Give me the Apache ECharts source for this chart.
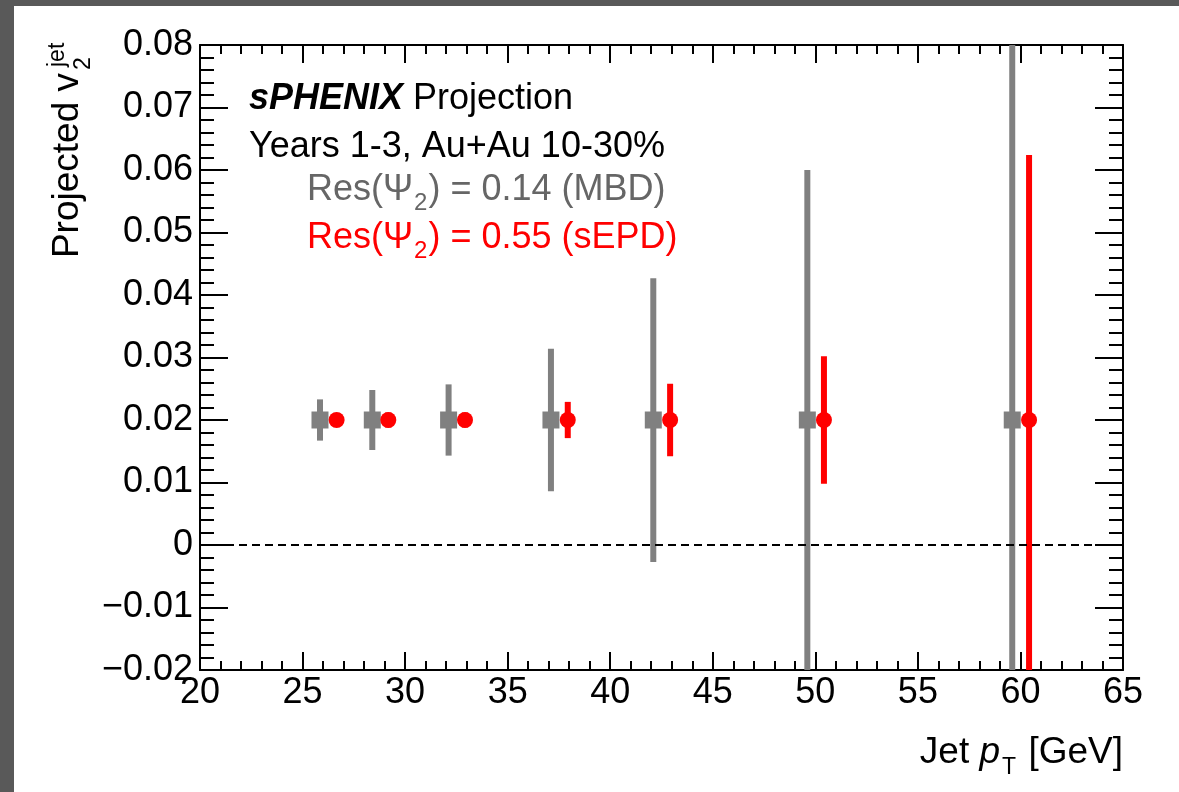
<!DOCTYPE html>
<html>
<head>
<meta charset="utf-8">
<script src="https://cdn.jsdelivr.net/npm/echarts@6/dist/echarts.min.js"></script>
<style>
html,body{margin:0;padding:0;background:#fff;}
#chart{width:1179px;height:792px;}
</style>
</head>
<body>
<div id="chart"></div>
<script>
// Data
const mbdX   = [25.85, 28.40, 32.12, 37.11, 42.10, 49.61, 59.60];
const mbdY   = [0.02, 0.02, 0.02, 0.02, 0.02, 0.02, 0.02];
const mbdErr = [0.0033, 0.0048, 0.0057, 0.0114, 0.0227, 0.0400, 0.0700];
const sepdX   = [26.66, 29.18, 32.92, 37.93, 42.92, 50.42, 60.42];
const sepdY   = [0.02, 0.02, 0.02, 0.02, 0.02, 0.02, 0.02];
const sepdErr = [0.0010, 0.0012, 0.0012, 0.0029, 0.0058, 0.0102, 0.0424];
const xTicks = {min: 20, max: 65, step: 5};
const yTicks = {min: -0.02, max: 0.08, step: 0.01};

const FONT = '"Liberation Sans", Arial, Helvetica, sans-serif';
const GRAY = '#808080';
const RED = '#ff0000';

function toRows(xs, ys, es) {
  return xs.map((x, i) => [x, ys[i], es[i]]);
}

function makeRender(kind, color) {
  return function (params, api) {
    const x = api.value(0), y = api.value(1), e = api.value(2);
    const c = api.coord([x, y]);
    const top = api.coord([x, y + e]);
    const bot = api.coord([x, y - e]);
    const children = [{
      type: 'rect',
      shape: {x: c[0] - 3, y: top[1], width: 6, height: bot[1] - top[1]},
      style: {fill: color}
    }];
    if (kind === 'square') {
      children.push({type: 'rect', shape: {x: c[0] - 8.5, y: c[1] - 8.5, width: 17, height: 17}, style: {fill: color}});
    } else {
      children.push({type: 'circle', shape: {cx: c[0], cy: c[1], r: 8}, style: {fill: color}});
    }
    return {type: 'group', children: children};
  };
}

function yFmt(v) {
  if (Math.abs(v) < 1e-9) return '0';
  const s = v.toFixed(2);
  return s.replace('-', '\u2212');
}

const axisCommon = {
  axisLine: {show: true, onZero: false, lineStyle: {color: '#000', width: 2}},
  splitLine: {show: false},
  minorSplitLine: {show: false}
};

const chart = echarts.init(document.getElementById('chart'), null, {renderer: 'canvas'});

const legendRich = (color) => ({
  a: {fontFamily: FONT, fontSize: 36, fill: color, verticalAlign: 'bottom', lineHeight: 40, padding: [0, 0, 7, 0]},
  s: {fontFamily: FONT, fontSize: 24, fill: color, verticalAlign: 'bottom', lineHeight: 26, padding: [0, 1, 0, 1]}
});

const option = {
  backgroundColor: '#ffffff',
  animation: false,
  grid: {left: 200, top: 45, right: 56, bottom: 122, containLabel: false},
  xAxis: [{
    type: 'value', position: 'bottom', min: xTicks.min, max: xTicks.max, interval: xTicks.step,
    ...axisCommon,
    axisTick: {show: true, inside: true, length: 18, lineStyle: {color: '#000', width: 2}},
    minorTick: {show: true, splitNumber: 5, length: 9, lineStyle: {color: '#000', width: 2}},
    axisLabel: {show: true, fontFamily: FONT, fontSize: 36, color: '#000', margin: 5},
    name: ''
  }, {
    type: 'value', position: 'top', min: xTicks.min, max: xTicks.max, interval: xTicks.step,
    ...axisCommon,
    axisTick: {show: true, inside: true, length: 18, lineStyle: {color: '#000', width: 2}},
    minorTick: {show: true, splitNumber: 5, length: 9, lineStyle: {color: '#000', width: 2}},
    axisLabel: {show: false}
  }],
  yAxis: [{
    type: 'value', position: 'left', min: yTicks.min, max: yTicks.max, interval: yTicks.step,
    ...axisCommon,
    axisTick: {show: true, inside: true, length: 28, lineStyle: {color: '#000', width: 2}},
    minorTick: {show: true, splitNumber: 5, length: 14, lineStyle: {color: '#000', width: 2}},
    axisLabel: {show: true, fontFamily: FONT, fontSize: 36, color: '#000', margin: 7, formatter: yFmt}
  }, {
    type: 'value', position: 'right', min: yTicks.min, max: yTicks.max, interval: yTicks.step,
    ...axisCommon,
    axisTick: {show: true, inside: true, length: 28, lineStyle: {color: '#000', width: 2}},
    minorTick: {show: true, splitNumber: 5, length: 14, lineStyle: {color: '#000', width: 2}},
    axisLabel: {show: false}
  }],
  series: [{
    type: 'line',
    data: [],
    xAxisIndex: 0, yAxisIndex: 0,
    markLine: {
      silent: true, symbol: ['none', 'none'], label: {show: false},
      lineStyle: {color: '#000', width: 2, type: [8, 5]},
      data: [{yAxis: 0}]
    }
  }, {
    type: 'custom', name: 'MBD', xAxisIndex: 0, yAxisIndex: 0, clip: true,
    renderItem: makeRender('square', GRAY),
    data: toRows(mbdX, mbdY, mbdErr)
  }, {
    type: 'custom', name: 'sEPD', xAxisIndex: 0, yAxisIndex: 0, clip: true,
    renderItem: makeRender('circle', RED),
    data: toRows(sepdX, sepdY, sepdErr)
  }],
  graphic: [
    {type: 'rect', left: 0, top: 0, shape: {width: 1179, height: 6}, style: {fill: '#595959'}, z: 100},
    {type: 'rect', left: 0, top: 0, shape: {width: 14, height: 792}, style: {fill: '#595959'}, z: 100},
    // y-axis title
    {type: 'group', x: 86, y: 45, rotation: Math.PI / 2, children: [
      {type: 'text', x: -28, y: 0, style: {text: 'Projected v', font: '37px ' + FONT, fill: '#000', textAlign: 'right', textVerticalAlign: 'bottom'}},
      {type: 'text', x: -25, y: 9, style: {text: '2', font: '23px ' + FONT, fill: '#000', textAlign: 'left', textVerticalAlign: 'bottom'}},
      {type: 'text', x: -22, y: -17, style: {text: 'jet', font: '23px ' + FONT, fill: '#000', textAlign: 'left', textVerticalAlign: 'bottom'}}
    ]},
    // x-axis title
    {type: 'text', right: 56, top: 734, style: {
      text: '{a|Jet }{i|p}{s|T}{a| [GeV]}',
      rich: {
        a: {fontFamily: FONT, fontSize: 37, fill: '#000', verticalAlign: 'bottom', lineHeight: 42, padding: [0, 0, 8, 0]},
        i: {fontFamily: FONT, fontSize: 37, fontStyle: 'italic', fill: '#000', verticalAlign: 'bottom', lineHeight: 42, padding: [0, 0, 8, 0]},
        s: {fontFamily: FONT, fontSize: 23, fill: '#000', verticalAlign: 'bottom', lineHeight: 28, padding: [0, 2, 0, 2]}
      }
    }},
    // legend texts
    {type: 'text', x: 249, y: 81, style: {
      text: '{b|sPHENIX}{a| Projection}',
      rich: {
        b: {fontFamily: FONT, fontSize: 36, fontWeight: 'bold', fontStyle: 'italic', fill: '#000'},
        a: {fontFamily: FONT, fontSize: 36, fill: '#000'}
      }
    }},
    {type: 'text', x: 249, y: 129, style: {text: 'Years 1-3, Au+Au 10-30%', font: '36px ' + FONT, fill: '#000'}},
    {type: 'text', x: 307, y: 175, style: {text: '{a|Res(\u03A8}{s|2}{a|) = 0.14 (MBD)}', rich: legendRich('#666666')}},
    {type: 'text', x: 307, y: 223, style: {text: '{a|Res(\u03A8}{s|2}{a|) = 0.55 (sEPD)}', rich: legendRich('#ff0000')}}
  ]
};
chart.setOption(option);
</script>
</body>
</html>
